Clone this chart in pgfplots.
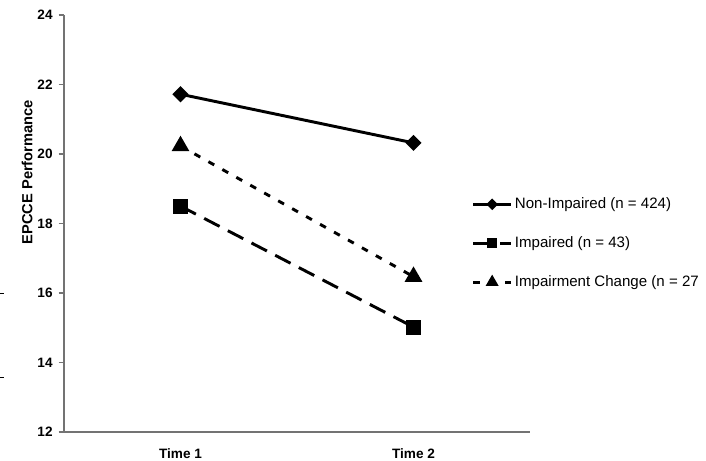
\documentclass[border=0pt]{standalone}
\usepackage{fontspec}
\setmainfont{Liberation Sans}
\usepackage{pgfplots}
\pgfplotsset{compat=1.18}
\begin{document}
\begin{tikzpicture}
\path[use as bounding box] (0,0) rectangle (529.5pt,345pt);
\begin{axis}[
  at={(48pt,21pt)}, anchor=south west,
  scale only axis, width=349.5pt, height=312.75pt,
  xmin=0.5, xmax=2.5, ymin=12, ymax=24,
  axis lines*=left,
  axis line style={black!55, line width=0.8pt},
  xtick={1,2}, xticklabels={Time 1, Time 2},
  extra x ticks={0.5,1.5,2.5}, extra x tick labels={},
  extra x tick style={major tick length=4pt, tick style={black!55, line width=0.8pt}},
  ytick={12,14,...,24},
  tick align=outside,
  major tick length=4pt,
  tick style={black!55, line width=0.8pt},
  x tick style={draw=none},
  xticklabel style={font=\bfseries\fontsize{10.2}{12}\selectfont, yshift=-5pt},
  yticklabel style={font=\bfseries\fontsize{10.2}{12}\selectfont, xshift=-1pt},
  /pgf/number format/assume math mode=true,
  ylabel={EPCCE Performance},
  ylabel style={font=\bfseries\fontsize{11}{13}\selectfont, at={(axis description cs:-0.079,0.623)}, anchor=center},
  clip=false,
  legend style={draw=none, fill=none, at={(axis description cs:0.875,0.575)}, anchor=north west,
    font=\fontsize{11.3}{13}\selectfont, row sep=15.5pt, cells={anchor=west},
    legend cell align=left, inner xsep=0pt},
  legend image code/.code={\draw[#1, mark size=0.62\pgfplotmarksize] (0pt,0pt) -- (28pt,0pt); \draw[#1, solid, mark size=0.62\pgfplotmarksize] plot coordinates {(14pt,0pt)};},
]
\addplot[black, line width=2.2pt, mark=square*, mark size=3.2pt, mark options={rotate=45, solid}]
  coordinates {(1,21.72) (2,20.32)};
\addlegendentry{Non-Impaired (n = 424)}
\addplot[black, line width=2.2pt, dash pattern=on 13pt off 7pt, mark=square*, mark size=4.5pt, mark options={solid}]
  coordinates {(1,18.5) (2,15.02)};
\addlegendentry{Impaired (n = 43)}
\addplot[black, line width=2.2pt, dash pattern=on 5pt off 7pt, mark=triangle*, mark size=5.5pt, mark options={solid}]
  coordinates {(1,20.23) (2,16.47)};
\addlegendentry{Impairment Change (n = 27}
\draw[black, line width=0.6pt] (axis description cs:-0.137,0.333) -- ++(3pt,0pt);
\draw[black, line width=0.6pt] (axis description cs:-0.137,0.132) -- ++(3pt,0pt);
\end{axis}
\end{tikzpicture}
\end{document}
